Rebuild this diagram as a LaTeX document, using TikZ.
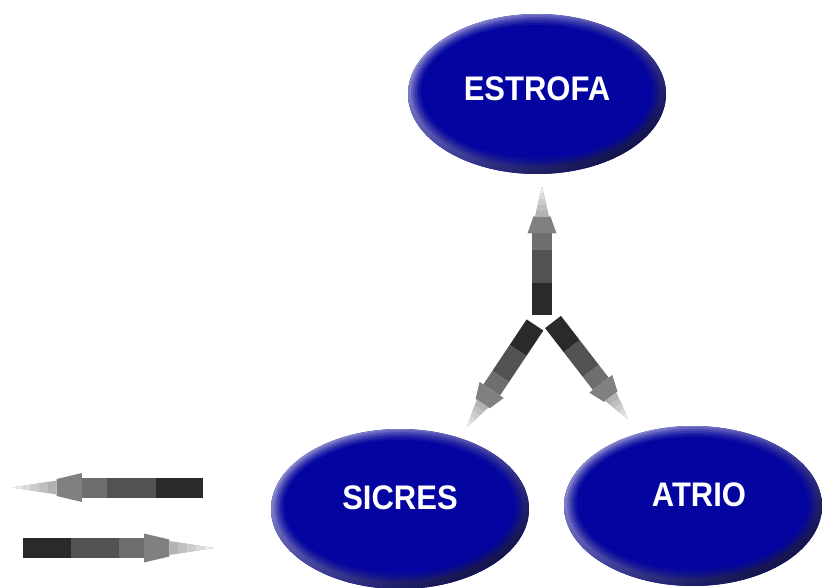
\documentclass[tikz,border=0pt]{standalone}
\usepackage{fontspec}
\setmainfont{Liberation Sans}
\usepackage{graphicx}
\usetikzlibrary{calc,shapes.geometric,shadings}
\definecolor{blobblue}{RGB}{4,4,160}
\definecolor{blobhi}{RGB}{185,185,230}
\definecolor{blobdark}{RGB}{0,0,40}
\definecolor{blobmid}{RGB}{60,60,165}
\definecolor{segdark}{RGB}{42,42,42}
\definecolor{segmid}{RGB}{82,82,82}
\definecolor{seglight}{RGB}{110,110,110}
\definecolor{seghead}{RGB}{128,128,128}
\tikzset{
 blob/.style={ellipse, minimum width=258pt, minimum height=160pt, inner sep=0pt, fill=blobblue,
  path picture={
   \shade[upper left=blobhi, upper right=blobmid, lower left=blobmid, lower right=blobdark]
     (path picture bounding box.south west) rectangle (path picture bounding box.north east);
   \foreach \d/\o in {4/0.2,6/0.25,8/0.3,10/0.4,12/0.55,14/1}{
     \fill[blobblue, opacity=\o] ([xshift=-1pt,yshift=3pt]path picture bounding box.center)
       ellipse [x radius={(129-\d)*1pt}, y radius={(80-\d)*1pt}];
   }}},
 blobtext/.style={text=white, inner sep=0pt, font=\bfseries\fontsize{31}{31}\selectfont},
}
\newcommand\blockarrow[2]{%
 \path ($(#1)!0.25!(#2)$) coordinate (s1) ($(#1)!0.505!(#2)$) coordinate (s2)
       ($(#1)!0.637!(#2)$) coordinate (s3) ($(#1)!0.77!(#2)$) coordinate (s4);
 \fill[segdark] ($(#1)!10pt!90:(#2)$) -- ($(s1)!10pt!90:(#2)$) -- ($(s1)!10pt!-90:(#2)$) -- ($(#1)!10pt!-90:(#2)$) -- cycle;
 \fill[segmid] ($(s1)!10pt!90:(#2)$) -- ($(s2)!10pt!90:(#2)$) -- ($(s2)!10pt!-90:(#2)$) -- ($(s1)!10pt!-90:(#2)$) -- cycle;
 \fill[seglight] ($(s2)!10pt!90:(#2)$) -- ($(s3)!10pt!90:(#2)$) -- ($(s3)!10pt!-90:(#2)$) -- ($(s2)!10pt!-90:(#2)$) -- cycle;
 \fill[seghead] ($(s3)!10pt!90:(#2)$) -- ($(s3)!14.5pt!90:(#2)$) -- ($(s4)!8.5pt!90:(#2)$)
   -- ($(s4)!8.5pt!-90:(#2)$) -- ($(s3)!14.5pt!-90:(#2)$) -- ($(s3)!10pt!-90:(#2)$) -- cycle;
 \coordinate (kl) at ($(s4)!7pt!90:(#2)$);
 \coordinate (kr) at ($(s4)!7pt!-90:(#2)$);
 \foreach \t/\c in {0/30,0.2/25,0.4/20,0.6/14,0.8/8}{
   \fill[black!\c] ($(kl)!\t!(#2)$) -- (#2) -- ($(kr)!\t!(#2)$) -- cycle;
 }
}
\begin{document}
\begin{tikzpicture}[x=1pt,y=-1pt]
\useasboundingbox[fill=white] (0,0) rectangle (822,588);
% ellipses
\node[blob] (estrofa) at (537,94) {};
\node[blob] (sicres) at (400,509) {};
\node[blob] (atrio) at (693,506) {};
\node[blobtext] (testrofa) at ([yshift=5pt]estrofa.center) {\scalebox{1}[1.1]{ESTROFA}};
\node[blobtext] (tsicres) at ([yshift=11pt]sicres.center) {\scalebox{1}[1.1]{SICRES}};
\node[blobtext] (tatrio) at ([xshift=6pt,yshift=11pt]atrio.center) {\scalebox{1}[1.1]{ATRIO}};
% arrows
\coordinate (upbase) at (542,315);
\coordinate (uptip) at (542,187);
\coordinate (ldbase) at (535,325);
\coordinate (ldtip) at (467,427);
\coordinate (rdbase) at (553,322);
\coordinate (rdtip) at (628,419);
\coordinate (lgbase) at (203,487.5);
\coordinate (lgtip) at (13,487.5);
\coordinate (rgbase) at (23,548);
\coordinate (rgtip) at (213,548);
\blockarrow{upbase}{uptip}
\blockarrow{ldbase}{ldtip}
\blockarrow{rdbase}{rdtip}
\blockarrow{lgbase}{lgtip}
\blockarrow{rgbase}{rgtip}
\end{tikzpicture}
\end{document}
